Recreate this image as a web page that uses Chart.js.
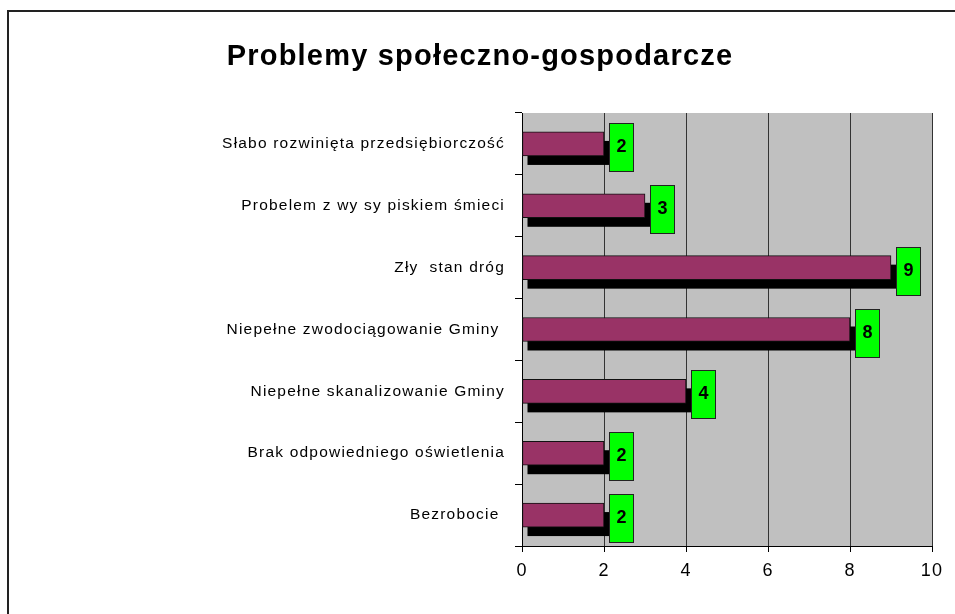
<!DOCTYPE html>
<html>
<head>
<meta charset="utf-8">
<script src="https://cdn.jsdelivr.net/npm/chart.js@4/dist/chart.umd.min.js"></script>
<style>
  html, body { margin: 0; padding: 0; background: #fff; }
  #wrap { width: 955px; height: 614px; position: relative; }
</style>
</head>
<body>
<div id="wrap"><canvas id="chart1"></canvas></div>
<script>
var chartTitle = 'Problemy społeczno-gospodarcze';
var categories = [
    'Słabo rozwinięta przedsiębiorczość',
    'Probelem z wy sy piskiem śmieci',
    'Zły  stan dróg',
    'Niepełne zwodociągowanie Gminy ',
    'Niepełne skanalizowanie Gminy',
    'Brak odpowiedniego oświetlenia',
    'Bezrobocie '
];
var values = [2, 3, 9, 8, 4, 2, 2];
var xTicks = [0, 2, 4, 6, 8, 10];

var FONT = 'Arial, "Liberation Sans", sans-serif';

// grey plot background, outer frame and title
var backgroundPlugin = {
    id: 'background',
    beforeDraw: function (chart) {
        var ctx = chart.ctx;
        var a = chart.chartArea;
        ctx.save();
        ctx.fillStyle = '#ffffff';
        ctx.fillRect(0, 0, chart.width, chart.height);
        ctx.fillStyle = '#c0c0c0';
        ctx.fillRect(a.left, a.top, a.right - a.left, a.bottom - a.top);
        ctx.strokeStyle = '#222';
        ctx.lineWidth = 2;
        ctx.strokeRect(8, 11, chart.width + 10, chart.height + 10);
        ctx.fillStyle = '#000';
        ctx.font = 'bold 29px ' + FONT;
        ctx.letterSpacing = '1.2px';
        ctx.textAlign = 'center';
        ctx.textBaseline = 'middle';
        ctx.fillText(chartTitle, 480, 57);
        ctx.restore();
        // the axis labels in the original are spaced out a bit
        ctx.letterSpacing = '1.2px';
    },
    beforeDatasetsDraw: function (chart) {
        chart.ctx.letterSpacing = '0px';
    }
};

// black drop shadow under each bar
var shadowPlugin = {
    id: 'barShadow',
    beforeDatasetsDraw: function (chart) {
        var ctx = chart.ctx;
        var meta = chart.getDatasetMeta(0);
        ctx.save();
        ctx.fillStyle = '#000';
        meta.data.forEach(function (bar) {
            var h = bar.height;
            ctx.fillRect(bar.base + 5, bar.y - h / 2 + 9, bar.x - bar.base, h);
        });
        ctx.restore();
    }
};

// green value boxes
var labelPlugin = {
    id: 'valueBoxes',
    afterDatasetsDraw: function (chart) {
        var ctx = chart.ctx;
        var meta = chart.getDatasetMeta(0);
        ctx.save();
        meta.data.forEach(function (bar, i) {
            var x = Math.round(bar.x) + 5;
            var y = Math.round(bar.y) + 3 - 24;
            ctx.fillStyle = '#00ff00';
            ctx.fillRect(x, y, 24, 48);
            ctx.strokeStyle = '#222';
            ctx.lineWidth = 1;
            ctx.strokeRect(x + 0.5, y + 0.5, 24, 48);
            ctx.fillStyle = '#000';
            ctx.font = 'bold 18px ' + FONT;
            ctx.textAlign = 'center';
            ctx.textBaseline = 'middle';
            ctx.fillText(String(values[i]), x + 12.5, y + 24.5);
        });
        ctx.restore();
    }
};

var ctx = document.getElementById('chart1').getContext('2d');
var myChart1 = new Chart(ctx, {
    type: 'bar',
    data: {
        labels: categories,
        datasets: [{
            label: chartTitle,
            data: values,
            backgroundColor: '#993366',
            borderColor: '#111',
            borderWidth: 1,
            borderSkipped: false,
            barThickness: 24
        }]
    },
    plugins: [backgroundPlugin, shadowPlugin, labelPlugin],
    options: {
        indexAxis: 'y',
        responsive: true,
        maintainAspectRatio: false,
        animation: false,
        layout: {
            padding: { left: 0, top: 113, right: 23, bottom: 0 }
        },
        plugins: {
            legend: { display: false },
            title: { display: false },
            tooltip: { enabled: false }
        },
        scales: {
            x: {
                min: 0,
                max: 10,
                afterBuildTicks: function (scale) {
                    scale.ticks = xTicks.map(function (v) { return { value: v }; });
                },
                grid: {
                    color: '#333',
                    lineWidth: 1,
                    tickLength: 6,
                    tickColor: '#000'
                },
                border: { color: '#000', width: 1 },
                ticks: {
                    color: '#000',
                    font: { family: FONT, size: 18 },
                    padding: 8
                },
                afterFit: function (scale) { scale.height = 68; }
            },
            y: {
                grid: {
                    offset: true,
                    drawOnChartArea: false,
                    tickLength: 7,
                    tickColor: '#000'
                },
                border: { color: '#000', width: 1 },
                ticks: {
                    color: '#000',
                    font: { family: FONT, size: 15.5 },
                    padding: 10
                },
                afterFit: function (scale) { scale.width = 522; }
            }
        }
    }
});
</script>
</body>
</html>
